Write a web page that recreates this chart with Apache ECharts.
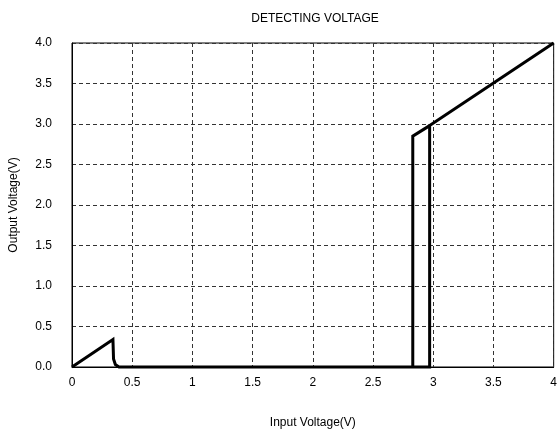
<!DOCTYPE html>
<html>
<head>
<meta charset="utf-8">
<script src="https://cdn.jsdelivr.net/npm/echarts@6/dist/echarts.min.js"></script>
<style>html,body{margin:0;padding:0;background:#fff}#c{width:560px;height:446px}</style>
</head>
<body>
<div id="c"></div>
<script>
var titleText = 'DETECTING VOLTAGE';
var xName = 'Input Voltage(V)';
var yName = 'Output Voltage(V)';
var xTicks = ['0', '0.5', '1', '1.5', '2', '2.5', '3', '3.5', '4'];
var yTicks = ['0.0', '0.5', '1.0', '1.5', '2.0', '2.5', '3.0', '3.5', '4.0'];
// rising branch (input increasing)
var risingX = [0, 0.34, 0.345, 0.36, 0.39, 2.97, 2.97, 4];
var risingY = [0, 0.34, 0.1, 0.03, 0, 0, 2.98, 4];
// falling branch (input decreasing)
var fallingX = [2.97, 2.83, 2.83];
var fallingY = [2.98, 2.85, 0];

function pairs(xs, ys) { return xs.map(function (x, i) { return [x, ys[i]]; }); }

var font = 'Liberation Sans, Arial, sans-serif';
var chart = echarts.init(document.getElementById('c'), null, { renderer: 'canvas' });
chart.setOption({
  animation: false,
  backgroundColor: '#fff',
  title: {
    text: titleText, left: 310, top: 8, textAlign: 'center',
    textStyle: { fontSize: 12, fontWeight: 'normal', color: '#000', fontFamily: font }
  },
  grid: { left: 68, right: 4, top: 43, bottom: 79, show: true, borderColor: '#000', borderWidth: 1, backgroundColor: 'transparent' },
  xAxis: {
    type: 'value', min: 0, max: 4, interval: 0.5,
    name: xName, nameLocation: 'middle', nameGap: 50,
    nameTextStyle: { fontSize: 12, color: '#000', fontFamily: font },
    axisLine: { show: true, lineStyle: { color: '#000', width: 1 } },
    axisTick: { show: false },
    axisLabel: { margin: 10, fontSize: 12, color: '#000', fontFamily: font,
      formatter: function (v) { return xTicks[Math.round(v / 0.5)]; } },
    splitLine: { show: true, lineStyle: { color: '#333', width: 1, type: [4, 3] } }
  },
  yAxis: {
    type: 'value', min: 0, max: 4, interval: 0.5,
    name: yName, nameLocation: 'middle', nameGap: 52, nameRotate: 90,
    nameTextStyle: { fontSize: 12, color: '#000', fontFamily: font },
    axisLine: { show: true, lineStyle: { color: '#000', width: 1 } },
    axisTick: { show: false },
    axisLabel: { margin: 20, fontSize: 12, color: '#000', fontFamily: font,
      formatter: function (v) { return yTicks[Math.round(v / 0.5)]; } },
    splitLine: { show: true, lineStyle: { color: '#333', width: 1, type: [4, 3] } }
  },
  series: [
    { type: 'line', data: pairs(risingX, risingY), showSymbol: false, symbol: 'none', clip: false,
      lineStyle: { color: '#000', width: 3, join: 'miter' } },
    { type: 'line', data: pairs(fallingX, fallingY), showSymbol: false, symbol: 'none', clip: false,
      lineStyle: { color: '#000', width: 3, join: 'miter' } }
  ]
});
</script>
</body>
</html>
